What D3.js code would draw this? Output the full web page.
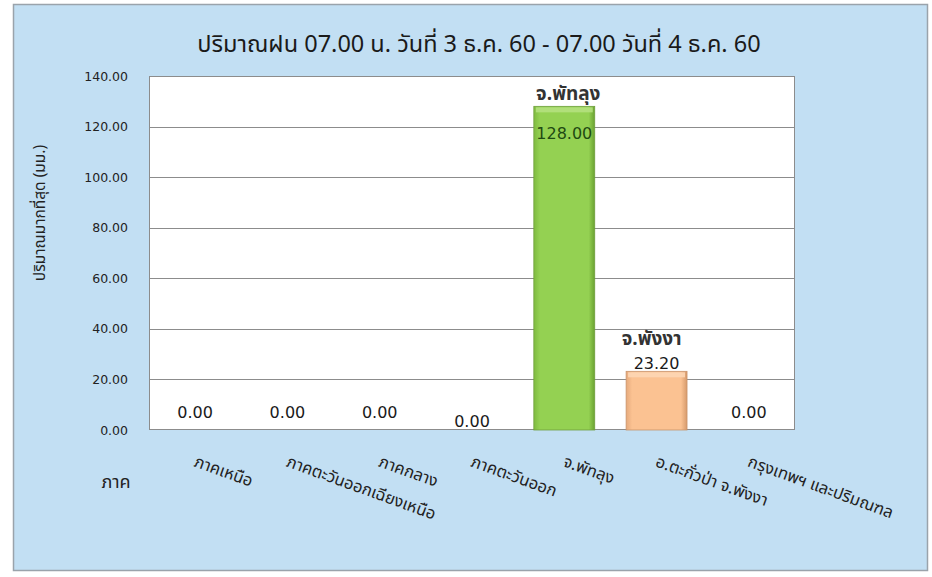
<!DOCTYPE html>
<html><head><meta charset="utf-8">
<script src="https://cdn.jsdelivr.net/npm/d3@7"></script>
<style>
html,body{margin:0;padding:0;background:#fff;}
text{font-family:"Noto Sans Thai","Noto Sans","DejaVu Sans",sans-serif;}
text.num{font-family:"DejaVu Sans","Noto Sans",sans-serif;}
</style></head>
<body><svg id="c" width="932" height="577"></svg>
<script>
const titleText = "ปริมาณฝน 07.00 น. วันที่ 3 ธ.ค. 60 - 07.00 วันที่ 4 ธ.ค. 60";
const yAxisTitle = "ปริมาณมากที่สุด (มม.)";
const xAxisTitle = "ภาค";
const categories = ["ภาคเหนือ","ภาคตะวันออกเฉียงเหนือ","ภาคกลาง","ภาคตะวันออก","จ.พัทลุง","อ.ตะกั่วป่า จ.พังงา","กรุงเทพฯ และปริมณฑล"];
const values = [0, 0, 0, 0, 128.00, 23.20, 0];
const barColors = ["#92d050","#92d050","#92d050","#92d050","#92d050","#fac090","#fac090"];
const topLabels = ["","","","","จ.พัทลุง","จ.พังงา",""];
const yTicks = [0,20,40,60,80,100,120,140];

const svg = d3.select("#c");
const defs = svg.append("defs");
function grad(id, c1, c2, c3){
  const g = defs.append("linearGradient").attr("id", id).attr("x1",0).attr("x2",1).attr("y1",0).attr("y2",0);
  g.append("stop").attr("offset","0%").attr("stop-color",c1);
  g.append("stop").attr("offset","10%").attr("stop-color",c2);
  g.append("stop").attr("offset","90%").attr("stop-color",c2);
  g.append("stop").attr("offset","100%").attr("stop-color",c3);
}
grad("gGreen","#7fbb40","#94d152","#6aa232");
grad("gOrange","#e6aa7c","#fbc292","#d69a6c");

// outer panel
svg.append("rect").attr("x",13.5).attr("y",4.5).attr("width",914).attr("height",566)
  .attr("fill","#c2dff3").attr("stroke","#9aa3ab").attr("stroke-width",1.5);

const L = 149, R = 795, T = 76, B = 430;
const x = d3.scaleBand().domain(categories).range([L, R]).paddingInner(0.34).paddingOuter(0.17);
const y = d3.scaleLinear().domain([0, 140]).range([B, T]);

svg.append("rect").attr("x",L).attr("y",T).attr("width",R-L).attr("height",B-T)
  .attr("fill","#ffffff");

// gridlines
svg.append("g").selectAll("line").data(yTicks.filter(d=>d>0)).join("line")
  .attr("x1",L).attr("x2",R).attr("y1",d=>Math.round(y(d))+0.5).attr("y2",d=>Math.round(y(d))+0.5)
  .attr("stroke","#8c8c8c").attr("stroke-width",1);

svg.append("rect").attr("x",L+0.5).attr("y",T+0.5).attr("width",R-L-1).attr("height",B-T-1)
  .attr("fill","none").attr("stroke","#8c8c8c").attr("stroke-width",1);

// y axis
const yAxis = d3.axisLeft(y).tickValues(yTicks).tickFormat(d3.format(".2f")).tickSize(0).tickPadding(21);
const gy = svg.append("g").attr("transform",`translate(${L},0)`).call(yAxis);
gy.select(".domain").remove();
gy.selectAll("text").attr("class","num").attr("font-size",12.5).attr("fill","#222").attr("dy","0.32em");

// bars
const bw = x.bandwidth();
const bars = svg.append("g").selectAll("g").data(categories.map((c,i)=>({c,v:values[i],col:barColors[i],i}))).join("g");
bars.filter(d=>d.v>0).append("rect")
  .attr("x",d=>x(d.c)).attr("y",d=>y(d.v)).attr("width",bw).attr("height",d=>B-y(d.v))
  .attr("fill",d=>d.col==="#92d050"?"url(#gGreen)":"url(#gOrange)")
  .attr("stroke",d=>d.col==="#92d050"?"#6f9f3c":"#c9936a").attr("stroke-width",0.8);
// bevel top highlight
bars.filter(d=>d.v>0).append("rect")
  .attr("x",d=>x(d.c)+2).attr("y",d=>y(d.v)+1).attr("width",bw-4).attr("height",5)
  .attr("fill",d=>d.col==="#92d050"?"#b4e07e":"#fdd6b4").attr("opacity",0.9);

// value labels
const vfmt = d3.format(".2f");
svg.append("g").selectAll("text").data(categories.map((c,i)=>({c,v:values[i],i}))).join("text")
  .attr("class","num")
  .attr("x",d=>x(d.c)+bw/2)
  .attr("y",d=>{
    if(d.v>100) return y(d.v)+33;
    if(d.v>0) return y(d.v)-2;
    return y(d.v)-12 + (d.i===3?9:0);
  })
  .attr("text-anchor","middle").attr("font-size",16)
  .attr("fill",d=>d.v>100?"#1f4a12":"#1a1a1a")
  .text(d=>vfmt(d.v));

// province labels above bars
svg.append("g").selectAll("text").data(categories.map((c,i)=>({c,v:values[i],t:topLabels[i]})).filter(d=>d.t)).join("text")
  .attr("x",d=>x(d.c)+bw/2 + (d.v>100?4:-5))
  .attr("y",d=>d.v>100? y(d.v)-6 : y(d.v)-26)
  .attr("text-anchor","middle").attr("font-size",19).attr("font-weight","bold").attr("fill","#333")
  .text(d=>d.t);

// x labels
svg.append("g").selectAll("text").data(categories).join("text")
  .attr("transform",d=>`translate(${x(d)+bw/2-2},${B+36}) rotate(20)`)
  .attr("text-anchor","start").attr("font-size",16.5).attr("fill","#222")
  .text(d=>d);

// axis titles
svg.append("text").attr("transform","translate(45,213) rotate(-90)").attr("text-anchor","middle")
  .attr("font-size",15.5).attr("fill","#222").text(yAxisTitle);
svg.append("text").attr("x",116).attr("y",488).attr("text-anchor","middle")
  .attr("font-size",18).attr("fill","#222").text(xAxisTitle);

// title
svg.append("text").attr("x",479).attr("y",52).attr("text-anchor","middle")
  .attr("font-size",23.5).attr("fill","#1a1a1a").text(titleText);
</script></body></html>
